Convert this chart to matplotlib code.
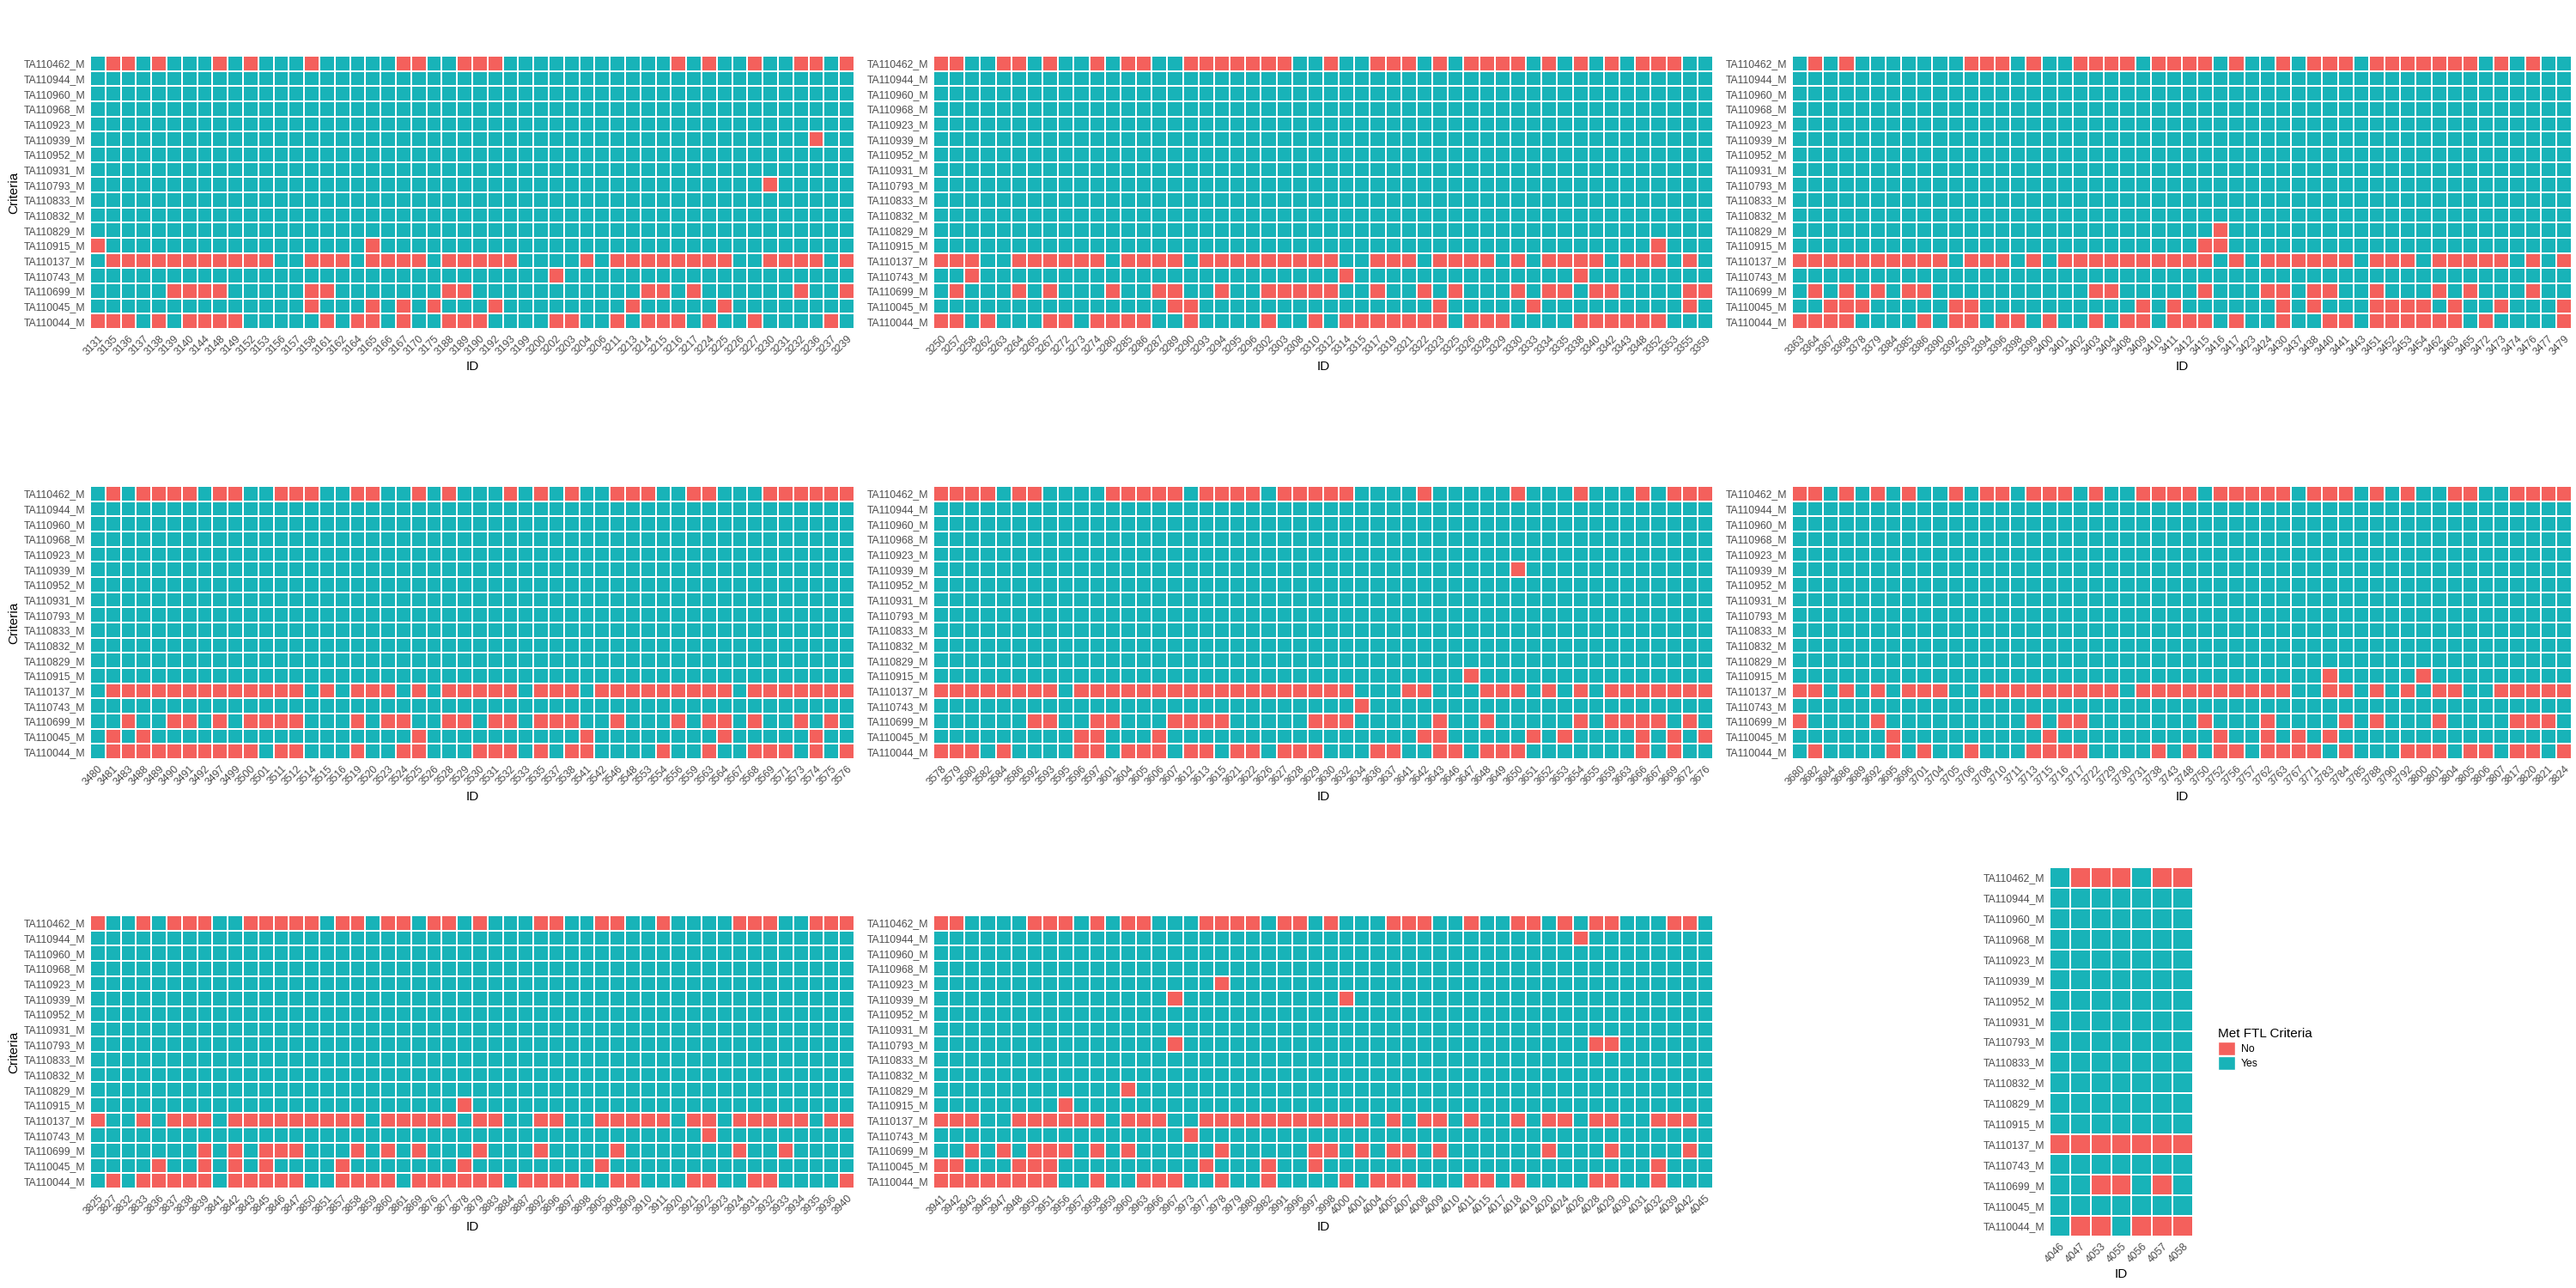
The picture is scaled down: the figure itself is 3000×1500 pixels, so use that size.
import numpy as np
import matplotlib.pyplot as plt
from matplotlib.colors import ListedColormap
from matplotlib.patches import Patch

plt.rcParams['font.family'] = ['Liberation Sans', 'DejaVu Sans']

NO_COL = "#F4605C"
YES_COL = "#18B3B8"

criteria = ["TA110462_M", "TA110944_M", "TA110960_M", "TA110968_M", "TA110923_M",
            "TA110939_M", "TA110952_M", "TA110931_M", "TA110793_M", "TA110833_M",
            "TA110832_M", "TA110829_M", "TA110915_M", "TA110137_M", "TA110743_M",
            "TA110699_M", "TA110045_M", "TA110044_M"]

# IDs per panel; met_* : "Y" = met, "N" = not met (rows left out are all "Y")
ids_1 = [3131, 3135, 3136, 3137, 3138, 3139, 3140, 3144, 3148, 3149, 3152, 3153, 3156, 3157, 3158,
         3161, 3162, 3164, 3165, 3166, 3167, 3170, 3175, 3188, 3189, 3190, 3192, 3193, 3199, 3200,
         3202, 3203, 3204, 3206, 3211, 3213, 3214, 3215, 3216, 3217, 3224, 3225, 3226, 3227, 3230,
         3231, 3232, 3236, 3237, 3239]
met_1 = {
    "TA110462_M": "YNNYNYYYNY NYYYNYYYYY NNYYNNNYYY YYYYYYYYNY NYYNYYNNYN",
    "TA110939_M": "YYYYYYYYYY YYYYYYYYYY YYYYYYYYYY YYYYYYYYYY YYYYYYYNYY",
    "TA110793_M": "YYYYYYYYYY YYYYYYYYYY YYYYYYYYYY YYYYYYYYYY YYYYNYYYYY",
    "TA110915_M": "NYYYYYYYYY YYYYYYYYNY YYYYYYYYYY YYYYYYYYYY YYYYYYYYYY",
    "TA110137_M": "YNNNNNNNNN NNYYNNNYNN NNYNNNNNYY YYNYNNNNNN NNYYNNNNYN",
    "TA110743_M": "YYYYYYYYYY YYYYYYYYYY YYYYYYYYYY NYYYYYYYYY YYYYYYYYYY",
    "TA110699_M": "YYYYYNNNNY YYYYNNYYYY YYYNNYYYYY YYYYYYNNYN YYYYYYNYYN",
    "TA110045_M": "YYYYYYYYYY YYYYNYYYNY NYNYYYNYYY YYYYYNYYYY YNYYYYYYYY",
    "TA110044_M": "NNNYNYNNNN YYYYYNYNNY NYYNNNYYYY NNYYNYNNNY NYYNYYYYNY",
}

ids_2 = [3250, 3257, 3258, 3262, 3263, 3264, 3265, 3267, 3272, 3273, 3274, 3280, 3285, 3286, 3287,
         3289, 3290, 3293, 3294, 3295, 3296, 3302, 3303, 3308, 3310, 3312, 3314, 3315, 3317, 3319,
         3321, 3322, 3323, 3325, 3326, 3328, 3329, 3330, 3333, 3334, 3335, 3338, 3340, 3342, 3343,
         3348, 3352, 3353, 3355, 3359]
met_2 = {
    "TA110462_M": "NNYYNNYNYY NYNNYYNNNN NNNYYNYYNN NYNYNNNNYN YNYNYNNNYY",
    "TA110915_M": "YYYYYYYYYY YYYYYYYYYY YYYYYYYYYY YYYYYYYYYY YYYYYYNYYY",
    "TA110137_M": "NNNYYNNNNN NYNNNNYNNN NNNNNNYYNN NYNNNNYNYN NNNYNNNYNY",
    "TA110743_M": "YYNYYYYYYY YYYYYYYYYY YYYYYYNYYY YYYYYYYYYY YNYYYYYYYY",
    "TA110699_M": "YNYYYNYNYY YNYYNNYYNY YNNNNNYYNY YNYNYYYNYN NYNNYYYYNN",
    "TA110045_M": "YYYYYYYYYY YYYYYNNYYY YYYYYYYYYY YYNYYYYYNY YYYYYYYYNY",
    "TA110044_M": "NNYNYYYNNY NNNNYYNYYY YNYYNYNNNN NNNYNNNYYY YNNNNNNYYY",
}

ids_3 = [3363, 3364, 3367, 3368, 3378, 3379, 3384, 3385, 3386, 3390, 3392, 3393, 3394, 3396, 3398,
         3399, 3400, 3401, 3402, 3403, 3404, 3408, 3409, 3410, 3411, 3412, 3415, 3416, 3417, 3423,
         3424, 3430, 3437, 3438, 3440, 3441, 3443, 3451, 3452, 3453, 3454, 3462, 3463, 3465, 3472,
         3473, 3474, 3476, 3477, 3479]
met_3 = {
    "TA110462_M": "YNYNYYYYYY YNNNYNYYNN NNYNNNNYNY YNYNNNYNNN NNNNYNYNYY",
    "TA110829_M": "YYYYYYYYYY YYYYYYYYYY YYYYYYYNYY YYYYYYYYYY YYYYYYYYYY",
    "TA110915_M": "YYYYYYYYYY YYYYYYYYYY YYYYYYNNYY YYYYYYYYYY YYYYYYYYYY",
    "TA110137_M": "NNNNNNNNNN YNNNYNYNNN NNNNNNNYNY NNNNNNYNNN YNNNNNYNYN",
    "TA110699_M": "YNYNYNYNNY YYYYYYYYYN NYYYYYNYYY NNYNNYYNYY YNYNYYYNYY",
    "TA110045_M": "YYNNNYYYYY NNYYYYYYYY YYNYNYYYYY YNYNYYYNNN NYNYYNYYYN",
    "TA110044_M": "NNNNYYYYNY NNYNNYNYYN YNNYNNNYNY YNYYNNYNNN NNNYNYYYYN",
}

ids_4 = [3480, 3481, 3483, 3488, 3489, 3490, 3491, 3492, 3497, 3499, 3500, 3501, 3511, 3512, 3514,
         3515, 3516, 3519, 3520, 3523, 3524, 3525, 3526, 3528, 3529, 3530, 3531, 3532, 3533, 3535,
         3537, 3538, 3541, 3542, 3546, 3548, 3553, 3554, 3556, 3559, 3563, 3564, 3567, 3568, 3569,
         3571, 3573, 3574, 3575, 3576]
met_4 = {
    "TA110462_M": "YNYNNNNYNN YYNNNYYNNY YNYNYYYNYN YNYYNNNYYN NYYYNNNNNN",
    "TA110137_M": "YNNNNNNNNN NNNNYNYNNN YNYNNNNNYN NNYNNNNNNN NNYNNNNNNN",
    "TA110699_M": "YYNYYNNYNY NNNNYYYNYN NYYNNYNNYN NNYYNYYYNY NNYNYYNYNY",
    "TA110045_M": "YNYNYYYYYY YYYYYYYYYY YNYYYYYYYY YYNYYYYYYY YNYYYYYNYY",
    "TA110044_M": "YNNNNNNNNN NYNNYYYNYY NNYYYNNNYN YNNYYYYNYY NYYNNNYNYN",
}

ids_5 = [3578, 3579, 3580, 3582, 3584, 3586, 3592, 3593, 3595, 3596, 3597, 3601, 3604, 3605, 3606,
         3607, 3612, 3613, 3615, 3621, 3622, 3626, 3627, 3628, 3629, 3630, 3632, 3634, 3636, 3637,
         3641, 3642, 3643, 3646, 3647, 3648, 3649, 3650, 3651, 3652, 3653, 3654, 3655, 3659, 3663,
         3666, 3667, 3669, 3672, 3676]
met_5 = {
    "TA110462_M": "NNNNYNNYYY YNNNNNYNNN NYNNNNNYYY YNYYYYYNYY YNYYYNYNNN",
    "TA110939_M": "YYYYYYYYYY YYYYYYYYYY YYYYYYYYYY YYYYYYYNYY YYYYYYYYYY",
    "TA110915_M": "YYYYYYYYYY YYYYYYYYYY YYYYYYYYYY YYYYNYYYYY YYYYYYYYYY",
    "TA110137_M": "NNNNNNNNYN NNNNNNNNNN NNNNNNNYYY NNYYYNNNYN YNYNNNNNNN",
    "TA110743_M": "YYYYYYYYYY YYYYYYYYYY YYYYYYYNYY YYYYYYYYYY YYYYYYYYYY",
    "TA110699_M": "YYYYYYNNYY NNYYYNNNNY YYYYNNNYYY YYNYYNYYYY YNYNNNNYNY",
    "TA110045_M": "YYYYYYYYYN NYYYNYYYYY YYYYYYYYYY YNNYYYYYNY NYYYYNYNYN",
    "TA110044_M": "NNNYNYYYYN NYNNNYNNYN NYNNNYYYNN YYNNYNNNYY YYYYYNYNYY",
}

ids_6 = [3680, 3682, 3684, 3686, 3689, 3692, 3695, 3696, 3701, 3704, 3705, 3706, 3708, 3710, 3711,
         3713, 3715, 3716, 3717, 3722, 3729, 3730, 3731, 3738, 3743, 3748, 3750, 3752, 3756, 3757,
         3762, 3763, 3767, 3771, 3783, 3784, 3785, 3788, 3790, 3792, 3800, 3801, 3804, 3805, 3806,
         3807, 3817, 3820, 3821, 3824]
met_6 = {
    "TA110462_M": "NNYNYNYNYY NYNNYNNNYN YYNNNNYNNN NNYNNNYNYN YYNNYYNNNN",
    "TA110915_M": "YYYYYYYYYY YYYYYYYYYY YYYYYYYYYY YYYYNYYYYY NYYYYYYYYY",
    "TA110137_M": "NNYNYNYNNN YYNNNNNNNN NYNNNNNNNN NNYYNNYNYN YNNYYNNNNN",
    "TA110699_M": "NYYYYNYYYY YYYYYNYNNY YYYYYYNYYY NYYYYNYNYY YNYYYYNNNY",
    "TA110045_M": "YYYYYYNYYY YYYYYYNYYY YYYYYYYNYY NYNYNYYYYY YYYYYYYYYY",
    "TA110044_M": "YNYYYYNYNY YNYYYNNNNY YYYNYNYNNY NNNNYNYYYN NNYNNYNNYN",
}

ids_7 = [3825, 3827, 3832, 3833, 3836, 3837, 3838, 3839, 3841, 3842, 3843, 3845, 3846, 3847, 3850,
         3851, 3857, 3858, 3859, 3860, 3861, 3869, 3876, 3877, 3878, 3879, 3883, 3884, 3887, 3892,
         3896, 3897, 3898, 3905, 3908, 3909, 3910, 3911, 3920, 3921, 3922, 3923, 3924, 3931, 3932,
         3933, 3934, 3935, 3936, 3940]
met_7 = {
    "TA110462_M": "NYYNYNNNYY NNNNNYNNYN NYNNYNYYYN NYYNNYYNYY YYNNNYYNNN",
    "TA110915_M": "YYYYYYYYYY YYYYYYYYYY YYYYNYYYYY YYYYYYYYYY YYYYYYYYYY",
    "TA110137_M": "NYYNYNNNYN NNNNNNNNYN NNNNYNNYYN NYYNNNNNYN NYNNNNNYNN",
    "TA110743_M": "YYYYYYYYYY YYYYYYYYYY YYYYYYYYYY YYYYYYYYYY NYYYYYYYYY",
    "TA110699_M": "YYYYYYYNYN YNNNYYYNYN YNYYYNYYYN YYYYNYYYYY YYNYYNYYYY",
    "TA110045_M": "YYYYNYYNYN YNYYYYNYYY YYYYNYYYYY YYYNYYYYYY YYYYYYYYYY",
    "TA110044_M": "YNYNNNNNYN NNNNYYNNNN YNNNNNNYNN NNYYNNYYYN NYYNNYYYYN",
}

ids_8 = [3941, 3942, 3943, 3945, 3947, 3948, 3950, 3951, 3956, 3957, 3958, 3959, 3960, 3963, 3966,
         3967, 3973, 3977, 3978, 3979, 3980, 3982, 3991, 3996, 3997, 3998, 4000, 4001, 4004, 4005,
         4007, 4008, 4009, 4010, 4011, 4015, 4017, 4018, 4019, 4020, 4024, 4026, 4028, 4029, 4030,
         4031, 4032, 4039, 4042, 4045]
met_8 = {
    "TA110462_M": "NNYYYYNNNY NYNNYYYNNN NYNNYNYYYN NNYYNYYNNY NYNNYYYNNY",
    "TA110944_M": "YYYYYYYYYY YYYYYYYYYY YYYYYYYYYY YYYYYYYYYY YNYYYYYYYY",
    "TA110923_M": "YYYYYYYYYY YYYYYYYYNY YYYYYYYYYY YYYYYYYYYY YYYYYYYYYY",
    "TA110939_M": "YYYYYYYYYY YYYYYNYYYY YYYYYYNYYY YYYYYYYYYY YYYYYYYYYY",
    "TA110793_M": "YYYYYYYYYY YYYYYNYYYY YYYYYYYYYY YYYYYYYYYY YYNNYYYYYY",
    "TA110829_M": "YYYYYYYYYY YYNYYYYYYY YYYYYYYYYY YYYYYYYYYY YYYYYYYYYY",
    "TA110915_M": "YYYYYYYYNY YYYYYYYYYY YYYYYYYYYY YYYYYYYYYY YYYYYYYYYY",
    "TA110137_M": "NNNYYNNNNN NYNNNYYNNN NNNNNNNNYN YNNYNYYNYN NYNNYYNNNY",
    "TA110743_M": "YYYYYYYYYY YYYYYYNYYY YYYYYYYYYY YYYYYYYYYY YYYYYYYYYY",
    "TA110699_M": "YYNYNYNNNY NYNYYYYYNY YYYYNNYNYN NYNYYYYYYN YYYNYYYYNY",
    "TA110045_M": "NNYYYNNNYY YYYYYYYNYY YNYYNYYYYY YYYYYYYYYY YYYYYYNYYY",
    "TA110044_M": "NNNNNNNNYY NYYNNNYYNY YNYYYYNYNN NYYYNNYNYY YYNNYYNYYY",
}

ids_9 = [4046, 4047, 4053, 4055, 4056, 4057, 4058]
met_9 = {
    "TA110462_M": "YNNNYNN",
    "TA110137_M": "NNNNNNN",
    "TA110699_M": "YYNNYNY",
    "TA110044_M": "YNNYNNN",
}

panels = [(ids_1, met_1), (ids_2, met_2), (ids_3, met_3),
          (ids_4, met_4), (ids_5, met_5), (ids_6, met_6),
          (ids_7, met_7), (ids_8, met_8), (ids_9, met_9)]

# layout in pixels of the 3000x1500 canvas: (x0, x1, y_top, y_bottom)
W, H = 3000, 1500
col_x = [(105, 995), (1087, 1995), (2087, 2995)]
row_y = [(65, 383), (566, 884), (1066, 1384)]
boxes = [(cx[0], cx[1], ry[0], ry[1]) for ry in row_y for cx in col_x][:8]
boxes.append((2387, 2554, 1010, 1440))

fig = plt.figure(figsize=(30, 15), dpi=100)
cmap = ListedColormap([NO_COL, YES_COL])

for k, ((ids, met), (x0, x1, yt, yb)) in enumerate(zip(panels, boxes)):
    ax = fig.add_axes([x0 / W, 1 - yb / H, (x1 - x0) / W, (yb - yt) / H])
    n = len(ids)
    grid = np.array([[1 if ch == "Y" else 0 for ch in met.get(c, "Y" * n).replace(" ", "")]
                     for c in criteria])
    ax.pcolormesh(np.arange(n + 1), np.arange(len(criteria) + 1), grid, cmap=cmap,
                  vmin=0, vmax=1, edgecolors="white", linewidth=1.3)
    ax.set_xlim(0, n)
    ax.set_ylim(len(criteria), 0)
    ax.set_xticks(np.arange(n) + 0.5)
    ax.set_xticklabels([str(i) for i in ids], rotation=45, ha="right", va="top",
                       rotation_mode="anchor", fontsize=8.8, color="#4D4D4D")
    ax.set_yticks(np.arange(len(criteria)) + 0.5)
    ax.set_yticklabels(criteria, fontsize=8.8, color="#4D4D4D")
    ax.tick_params(length=0, pad=4)
    for s in ax.spines.values():
        s.set_visible(False)
    ax.set_xlabel("ID", fontsize=11, labelpad=3)
    if k in (0, 3, 6):
        ax.set_ylabel("Criteria", fontsize=11, labelpad=3)

fig.legend(handles=[Patch(facecolor=NO_COL, edgecolor="white", label="No"),
                    Patch(facecolor=YES_COL, edgecolor="white", label="Yes")],
           title="Met FTL Criteria", loc="upper left", bbox_to_anchor=(2572 / W, 1 - 1186 / H),
           frameon=False, fontsize=8.8, title_fontsize=11, handlelength=1.6, handleheight=1.6,
           handletextpad=0.6, labelspacing=0.15, alignment="left")

fig.savefig("out.png", dpi=100)
